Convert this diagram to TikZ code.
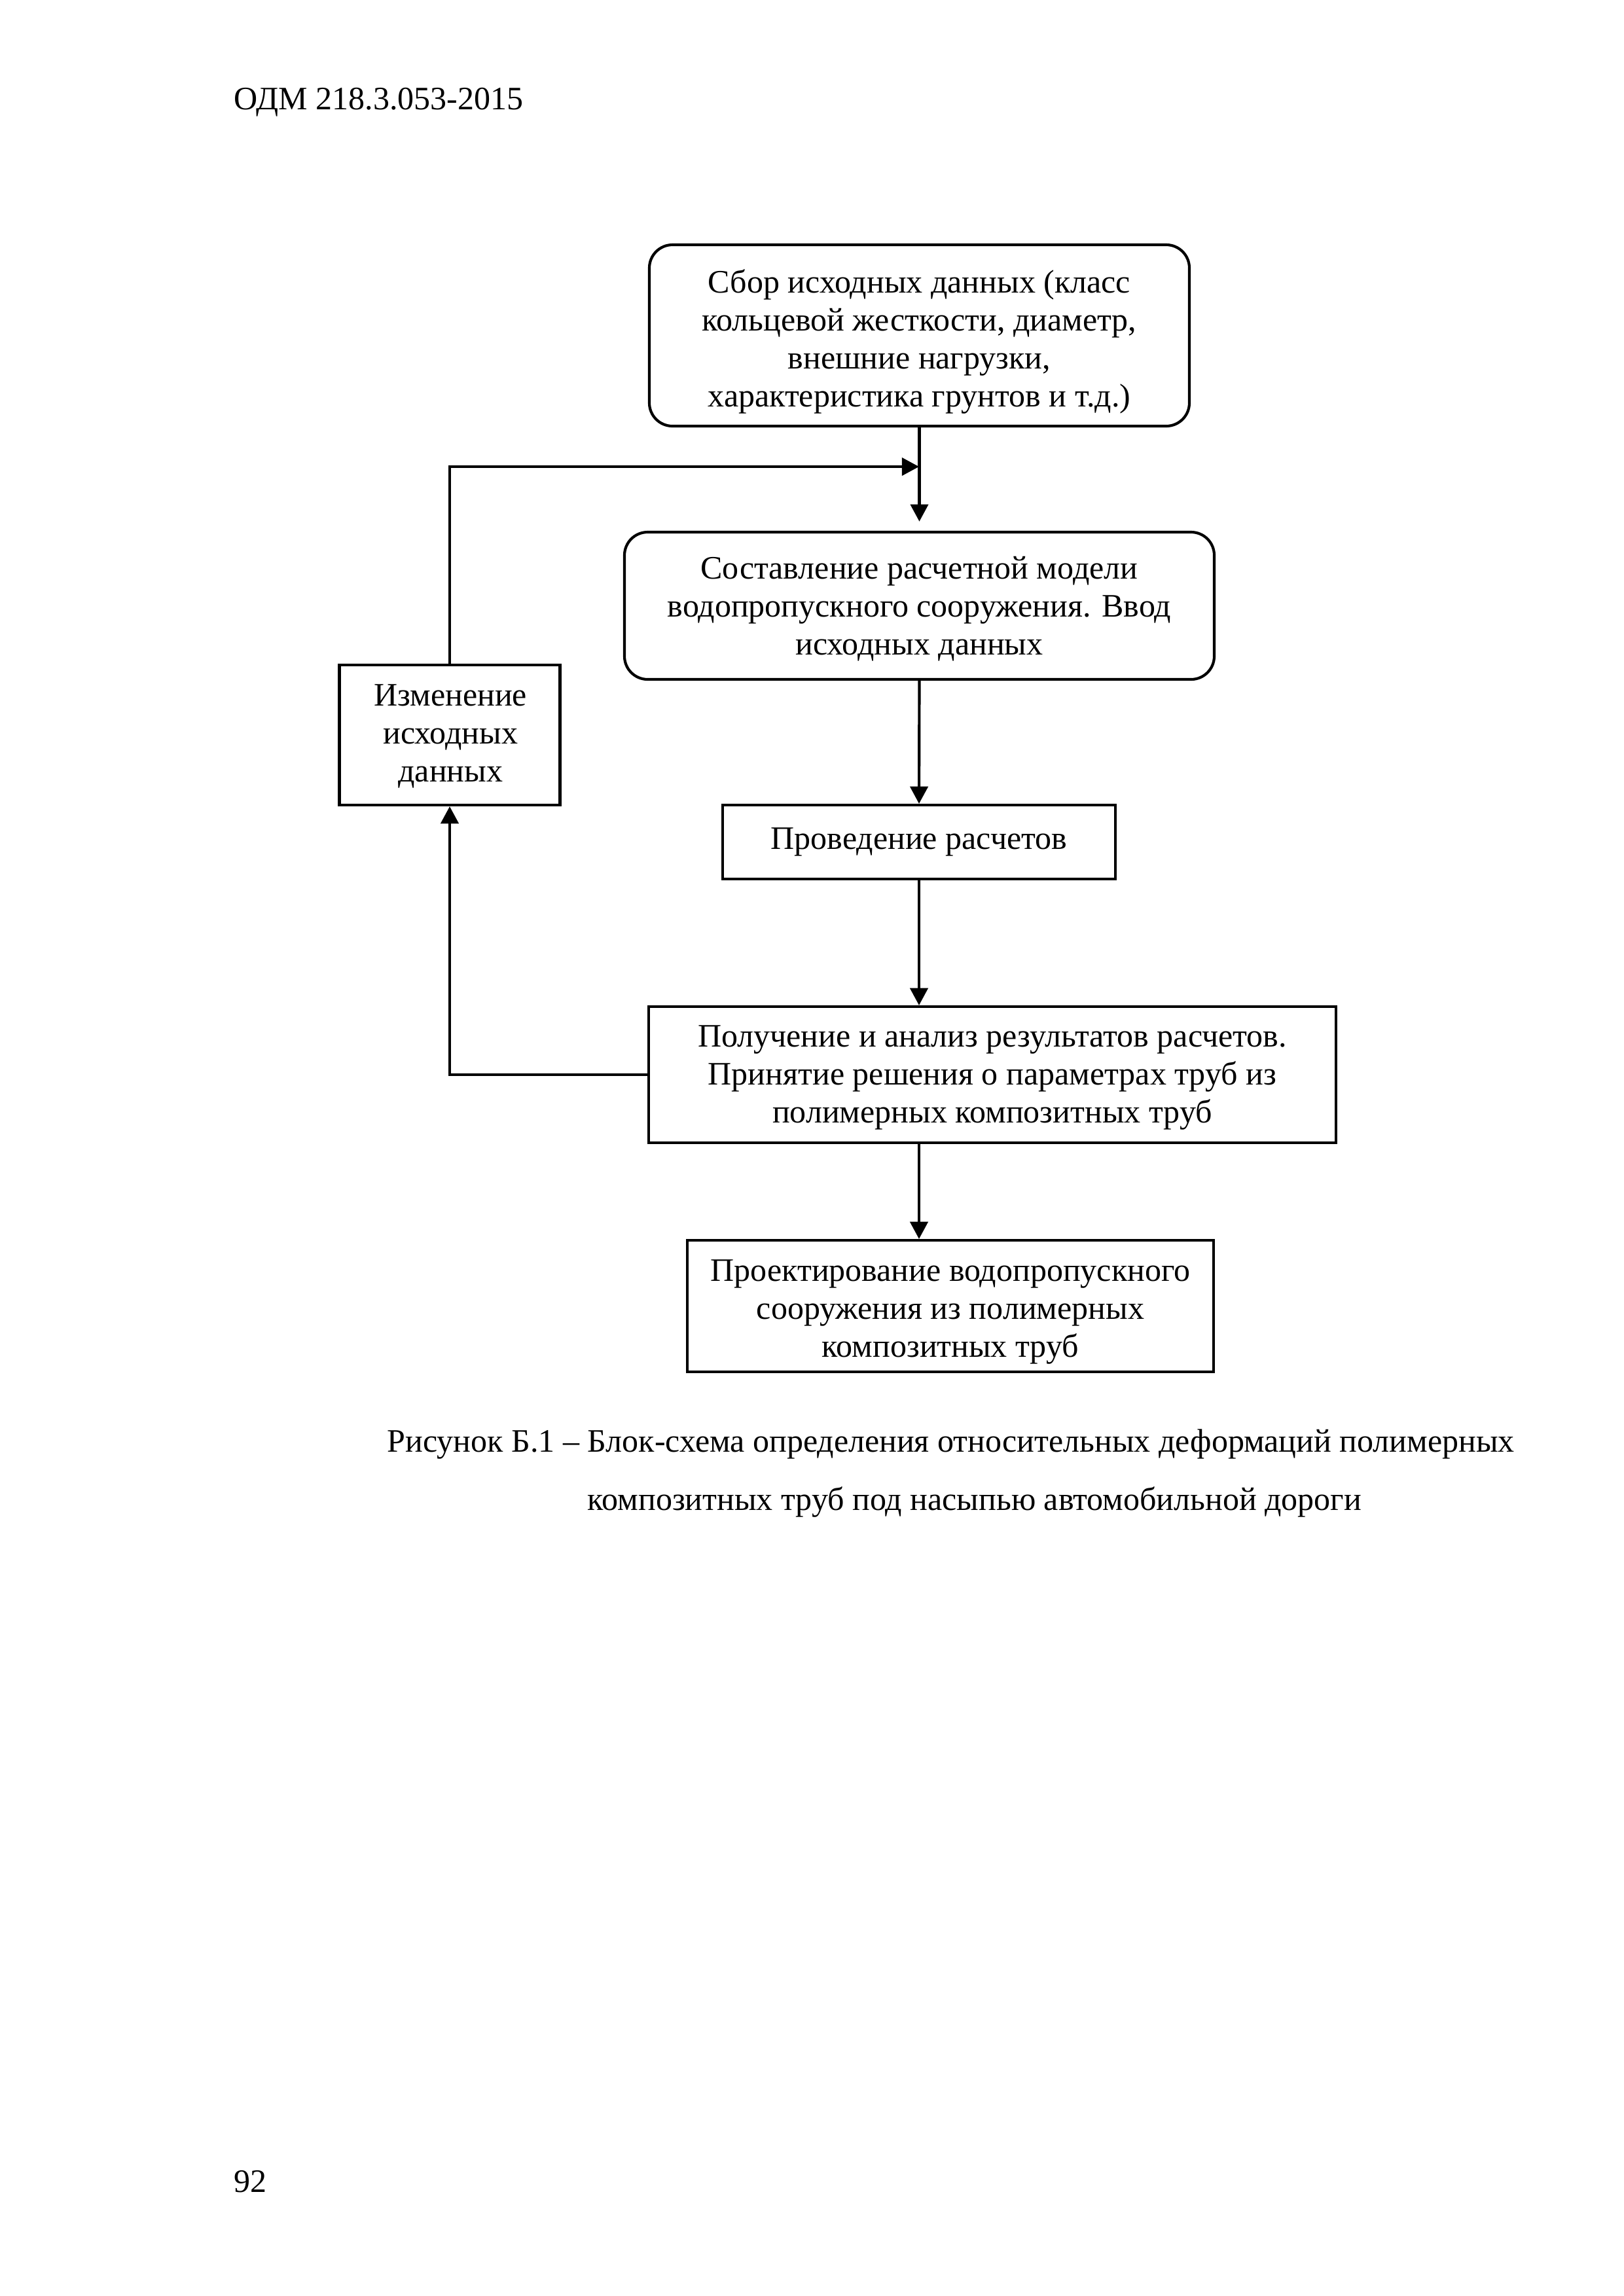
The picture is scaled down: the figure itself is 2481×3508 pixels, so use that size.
\documentclass[tikz,border=0pt]{standalone}
\usepackage{fontspec}
\setmainfont{Liberation Serif}
\usetikzlibrary{arrows.meta}
\tikzset{
  sz/.style 2 args={minimum width={#1*0.23993pt}, minimum height={#2*0.23993pt}},
  boxsq/.style={draw, line width=1pt, inner sep=2pt},
  boxrd/.style={boxsq, rounded corners=8.5pt},
  boxtext/.style={inner sep=0pt, align=center, font=\fontsize{12}{13.9}\selectfont},
  conn/.style={line width=1pt, -{Triangle[length=6.3pt,width=6.5pt]}},
  txt/.style={inner sep=0pt, font=\fontsize{12}{14}\selectfont}
}
\begin{document}
\begin{tikzpicture}[x=0.23993pt, y=-0.23993pt]
\useasboundingbox (0,0) rectangle (2481,3508);
\node[txt, anchor=base west] (hdr) at (357,167) {ОДМ 218.3.053-2015};
\node[boxrd, sz={825}{277}] (b1) at (1404.5,512.5) {};
\node[boxtext, yshift=-2.2pt] (t1) at (b1) {Сбор исходных данных (класс\\кольцевой жесткости, диаметр,\\внешние нагрузки,\\характеристика грунтов и т.д.)};
\node[boxrd, sz={901}{225}] (b2) at (1404.5,925.5) {};
\node[boxtext, yshift=-1.1pt] (t2) at (b2) {Составление расчетной модели\\водопропускного сооружения. Ввод\\исходных данных};
\node[boxsq, sz={337}{214}] (b3) at (687,1123) {};
\node[boxtext, yshift=-0.5pt, xshift=0.3pt] (t3) at (b3) {Изменение\\исходных\\данных};
\node[boxsq, sz={600}{113}] (b4) at (1404,1286.5) {};
\node[boxtext] (t4) at (b4) {Проведение расчетов};
\node[boxsq, sz={1050}{208}] (b5) at (1516,1642) {};
\node[boxtext, yshift=-1.1pt] (t5) at (b5) {Получение и анализ результатов расчетов.\\Принятие решения о параметрах труб из\\полимерных композитных труб};
\node[boxsq, sz={804}{201}] (b6) at (1452,1995.5) {};
\node[boxtext, yshift=-2.2pt] (t6) at (b6) {Проектирование водопропускного\\сооружения из полимерных\\композитных труб};
\coordinate (j) at (1404,713);
\draw[conn, shorten >=3.4pt] (b1.south) -- (b2.north);
\draw[conn] (b3.north) |- (j);
\draw[conn] (b2.south) -- (b4.north);
\draw[conn] (b4.south) -- (b5.north -| b4.south);
\draw[conn] (b5.south -| b4.south) -- (b6.north -| b4.south);
\draw[conn] (b5.west) -| (b3.south);
\node[txt, anchor=west] (cap1) at (591,2207) {Рисунок Б.1 – Блок-схема определения относительных деформаций полимерных};
\node[txt, anchor=west] (cap2) at (897,2295) {композитных труб под насыпью автомобильной дороги};
\node[txt, anchor=base west] (pg) at (357,3349) {92};
\end{tikzpicture}
\end{document}
